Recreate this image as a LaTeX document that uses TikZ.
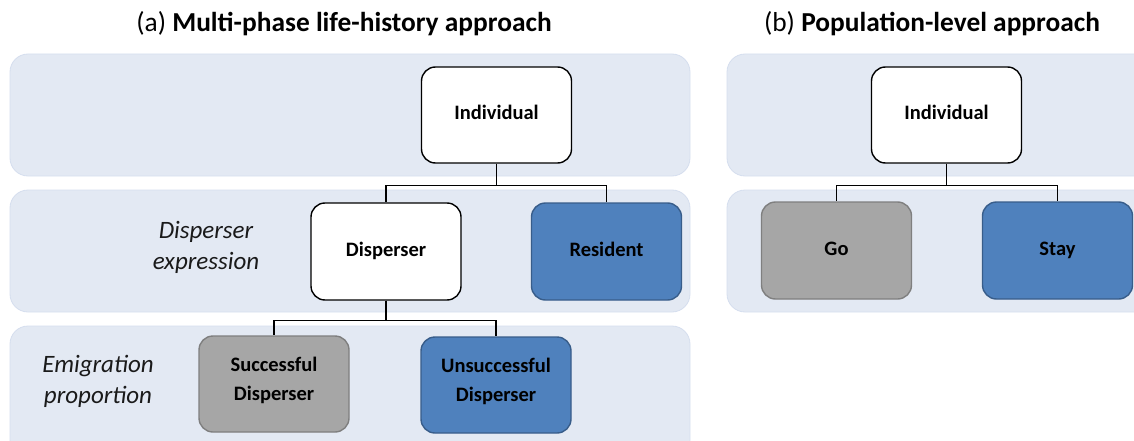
\documentclass[tikz,border=0pt]{standalone}
\usepackage{fontspec}
\setmainfont{Carlito}
\begin{document}
\begin{tikzpicture}[x=1pt,y=-1pt,
  band/.style={fill=bandc,draw=bandb,line width=0.8pt,rounded corners=18pt},
  box/.style={rounded corners=14pt,minimum width=150pt,minimum height=96pt,line width=1.4pt,font=\fontsize{20.5}{29}\selectfont\bfseries,align=center,inner sep=2pt},
  one/.style={text height=13pt,text depth=4pt},
  two/.style={text depth=11pt},
  wbox/.style={box,draw=black,fill=white},
  bbox/.style={box,draw=blueb,fill=bluef},
  gbox/.style={box,draw=grayb,fill=grayf},
  lbl/.style={font=\fontsize{25}{31}\selectfont\itshape,text=txtc,align=center},
  ttl/.style={font=\fontsize{27.4}{30}\selectfont},
  con/.style={line width=1.2pt,draw=black}]
\definecolor{bandc}{HTML}{E3E9F3}
\definecolor{bandb}{HTML}{D5DEEE}
\definecolor{bluef}{HTML}{4F81BD}
\definecolor{blueb}{HTML}{385D8A}
\definecolor{grayf}{HTML}{A6A6A6}
\definecolor{grayb}{HTML}{7F7F7F}
\definecolor{txtc}{HTML}{1A1A1A}
\useasboundingbox (0,0) rectangle (1134,441);
% bands
\draw[band] (10,54) rectangle (690,176);
\draw[band] (10,190) rectangle (690,312);
\draw[band] (10,326) rectangle (690,458);
\draw[band] (727,54) rectangle (1160,176);
\draw[band] (727,190) rectangle (1160,312);
% titles
\node[ttl] (ta) at (344,24) {(a) \textbf{Multi-phase life-history approach}};
\node[ttl] (tb) at (932,24) {(b) \textbf{Population-level approach}};
% labels
\node[lbl] (l1) at (206,247) {Disperser\\expression};
\node[lbl] (l2) at (98,381) {Emigration\\proportion};
% (a) nodes
\node[wbox,one] (ind) at (496.5,115) {Individual};
\node[wbox,one,minimum height=97pt] (disp) at (386,251.5) {Disperser};
\node[bbox,one,minimum height=97pt] (res) at (606.5,251.5) {Resident};
\node[gbox,two] (succ) at (274,384) {Successful\\Disperser};
\node[bbox,two] (unsucc) at (496,385) {Unsuccessful\\Disperser};
% (b) nodes
\node[wbox,one] (indb) at (946.5,115) {Individual};
\node[gbox,one,minimum height=97pt] (go) at (836.5,250.5) {Go};
\node[bbox,one,minimum height=97pt] (stay) at (1057.5,250.5) {Stay};
% connectors
\draw[con] (ind.south) -- ++(0,22) -| (disp.north);
\draw[con] (ind.south) -- ++(0,22) -| (res.north);
\draw[con] (disp.south) -- ++(0,20) -| (succ.north);
\draw[con] (disp.south) -- ++(0,20) -| (unsucc.north);
\draw[con] (indb.south) -- ++(0,22) -| (go.north);
\draw[con] (indb.south) -- ++(0,22) -| (stay.north);
\end{tikzpicture}
\end{document}
